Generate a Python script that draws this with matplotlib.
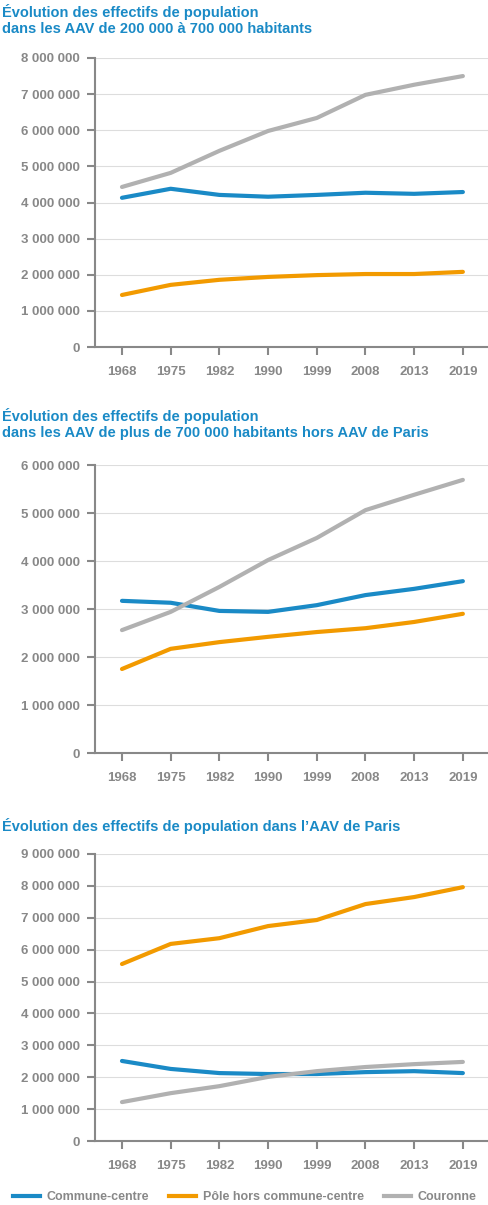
import matplotlib
matplotlib.use("Agg")
import matplotlib.pyplot as plt
from matplotlib.lines import Line2D

years = ["1968","1975","1982","1990","1999","2008","2013","2019"]
titles = ["Évolution des effectifs de population\ndans les AAV de 200 000 à 700 000 habitants",
          "Évolution des effectifs de population\ndans les AAV de plus de 700 000 habitants hors AAV de Paris",
          "Évolution des effectifs de population dans l’AAV de Paris"]
cc1 = [4.13,4.38,4.21,4.16,4.21,4.27,4.24,4.29]
pole1 = [1.44,1.72,1.86,1.94,1.99,2.02,2.02,2.08]
cour1 = [4.43,4.82,5.43,5.98,6.34,6.98,7.26,7.50]
cc2 = [3.17,3.13,2.96,2.94,3.08,3.29,3.42,3.58]
pole2 = [1.75,2.17,2.31,2.42,2.52,2.60,2.73,2.90]
cour2 = [2.56,2.94,3.46,4.02,4.48,5.06,5.38,5.69]
cc3 = [2.51,2.26,2.13,2.10,2.10,2.16,2.19,2.13]
pole3 = [5.55,6.18,6.36,6.74,6.93,7.43,7.65,7.96]
cour3 = [1.22,1.50,1.72,2.01,2.19,2.32,2.41,2.48]
ymax = [8, 6, 9]
series_names = ["Commune-centre","Pôle hors commune-centre","Couronne"]
colors = ["#1a8ac6","#f29a00","#b1b1b1"]
data = [(cc1,pole1,cour1),(cc2,pole2,cour2),(cc3,pole3,cour3)]

W,H = 489,1205
fig = plt.figure(figsize=(W/100,H/100), dpi=100)
plt.rcParams['font.family'] = ['Liberation Sans','DejaVu Sans']
axes_px = [(58,347),(465,753),(854,1141)]
title_px = [4, 408, 818]
grey = "#888888"
def fmt(v):
    return f"{int(v*1000000):,}".replace(",", " ")
for i,(top,bot) in enumerate(axes_px):
    ax = fig.add_axes([95/W, 1-bot/H, 393/W, (bot-top)/H])
    x = list(range(len(years)))
    for s,c in zip(data[i], colors):
        ax.plot(x, s, color=c, lw=3, solid_capstyle='round')
    ax.set_xlim(-0.554, 7.516)
    ax.set_ylim(0, ymax[i])
    ax.set_yticks(range(ymax[i]+1))
    ax.set_yticklabels([fmt(v) for v in range(ymax[i]+1)], fontsize=9.5, fontweight='bold', color=grey)
    ax.set_xticks(x)
    ax.set_xticklabels(years, fontsize=9.5, fontweight='bold', color=grey)
    ax.grid(axis='y', color='#dddddd', lw=0.8)
    ax.set_axisbelow(True)
    for sp in ['top','right']:
        ax.spines[sp].set_visible(False)
    for sp in ['left','bottom']:
        ax.spines[sp].set_color(grey); ax.spines[sp].set_linewidth(1.5)
    ax.tick_params(axis='both', color=grey, width=1.5, length=6, pad=5)
    ax.tick_params(axis='x', pad=8)
    fig.text(2/W, 1-title_px[i]/H, titles[i], fontsize=10.5, fontweight='bold',
             color="#1a8ac6", va='top', linespacing=1.15)
handles = [Line2D([],[],color=c,lw=3) for c in colors]
fig.legend(handles, series_names, loc='center', bbox_to_anchor=(0.5, 1-1197/H), ncol=3,
           frameon=False, handlelength=2.2, columnspacing=1.6, handletextpad=0.5,
           prop={'weight':'bold','size':9}, labelcolor=grey, borderaxespad=0)
fig.savefig("out.png", dpi=100)
